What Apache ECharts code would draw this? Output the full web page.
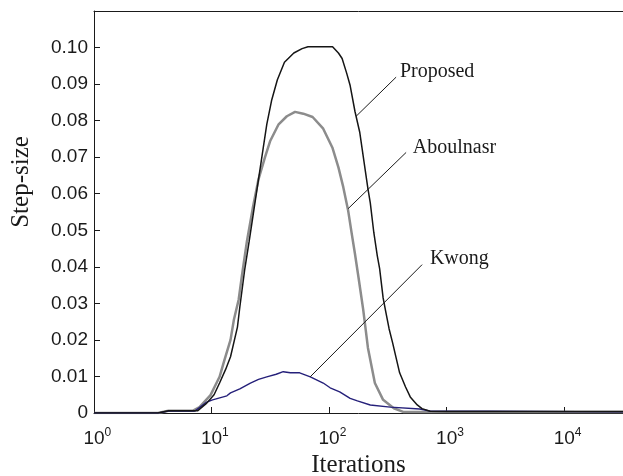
<!DOCTYPE html>
<html><head><meta charset="utf-8">
<script src="https://cdn.jsdelivr.net/npm/echarts@6/dist/echarts.min.js"></script>
<style>html,body{margin:0;padding:0;background:#fff}#c{width:623px;height:476px}</style>
</head><body><div id="c"></div>
<script>
// Iterations (x) and step-size (y)
const proposedX = [1,3.5,4.3,7.6,9.1,10.5,11.7,13.2,14.5,16.6,17.4,19.1,20.9,22.9,25.1,27.5,29.5,32.4,36.3,41.7,50.1,58.9,66.1,107,120,129,141,151,166,182,191,204,214,224,240,257,269,288,302,324,347,372,398,447,490,562,617,724,1000,31623];
const proposedY = [0,0,0.0006,0.0006,0.0027,0.005,0.0082,0.012,0.0154,0.0235,0.029,0.039,0.047,0.0555,0.064,0.0725,0.079,0.0855,0.0912,0.096,0.0985,0.0997,0.1002,0.1002,0.0985,0.097,0.093,0.0896,0.0825,0.0769,0.0723,0.0659,0.0613,0.0575,0.0494,0.043,0.0395,0.0315,0.028,0.023,0.0192,0.015,0.011,0.0071,0.0044,0.0022,0.0012,0.0005,0.0004,0.0004];
const aboulnasrX = [1,3.5,4.3,6.9,7.9,9.8,11.7,12.9,14.5,15.5,17.0,18.2,20.0,22.4,25.1,28.5,31.6,37.2,43.7,51.3,60.3,72.4,89.1,107,120,132,145,155,166,178,195,214,245,288,355,427,31623];
const aboulnasrY = [0,0,0.0006,0.0006,0.0016,0.0049,0.0099,0.0146,0.020,0.0256,0.031,0.038,0.047,0.056,0.064,0.070,0.0745,0.079,0.0812,0.0824,0.0819,0.081,0.0778,0.0725,0.0672,0.0618,0.0555,0.0495,0.0435,0.037,0.0283,0.0178,0.0082,0.0036,0.0013,0.0003,0.0003];
const kwongX = [1,3.5,4.3,7.2,9.1,10.2,13.5,14.5,17.4,21.4,25.1,29.5,35.5,40.7,46.8,56.2,69.2,89.1,102,123,151,174,224,331,589,724,2291,31623];
const kwongY = [0,0,0.0005,0.0005,0.003,0.0036,0.0047,0.0055,0.0066,0.0082,0.0092,0.0099,0.0106,0.0113,0.011,0.011,0.0099,0.0082,0.0069,0.0058,0.004,0.0033,0.0022,0.0016,0.0011,0.0005,0.0005,0.0003];
const xTickLabels = ['10^0','10^1','10^2','10^3','10^4'];
const seriesNames = ['Proposed','Aboulnasr','Kwong'];
// annotation anchors [x, y] in data space
const leaderLines = [[[371.5,0.0919],[169.8,0.0812]],[[452,0.0713],[145,0.0559]],[[618,0.0406],[68.9,0.00987]]];
const labelAnchors = [[400,0.0935],[515,0.0727],[720,0.0422]];

const pair = (xs, ys) => xs.map((x,i)=>[x, ys[i]]);
const colors = ['#151515','#8c8c8c','#25207a'];
const widths = [1.5,2.5,1.4];
const datasets = [pair(proposedX,proposedY), pair(aboulnasrX,aboulnasrY), pair(kwongX,kwongY)];

const chart = echarts.init(document.getElementById('c'), null, {renderer:'canvas'});
const order = [1,2,0];
const series = order.map(i => ({
  type:'line', name: seriesNames[i], data: datasets[i], showSymbol:false, symbol:'none',
  lineStyle:{color:colors[i], width:widths[i]}, z: 3 + (i===0?2:(i===2?1:0)),
  animation:false,
  markLine:{silent:true, symbol:'none', animation:false,
    lineStyle:{color:'#1a1a1a', width:1, type:'solid'}, label:{show:false},
    data:[[{coord:leaderLines[i][0]},{coord:leaderLines[i][1]}]]},
  markPoint:{silent:true, symbol:'circle', symbolSize:0, animation:false,
    label:{show:true, position:'right', distance:0, formatter:'{b}', color:'#1a1a1a',
      fontFamily:'Liberation Serif', fontSize:20},
    data:[{name: seriesNames[i], coord: labelAnchors[i]}]}
}));

const expOf = v => { const e = Math.log10(v); return Math.abs(e-Math.round(e))<1e-6 ? Math.round(e) : null; };
chart.setOption({
  animation:false,
  grid:{left:94, right:0, top:11, bottom:63, containLabel:false, outerBoundsMode:'none'},
  xAxis:[{
    type:'log', logBase:10, min:1, max:31623,
    name:'Iterations', nameLocation:'middle', nameGap:38,
    nameTextStyle:{fontFamily:'Liberation Serif', fontSize:25, color:'#1a1a1a'},
    axisLine:{show:true, onZero:false, lineStyle:{color:'#1a1a1a', width:1}},
    axisTick:{show:true, inside:true, length:6, lineStyle:{color:'#1a1a1a'}},
    minorTick:{show:false}, splitLine:{show:false},
    axisLabel:{margin:14, showMaxLabel:false, color:'#1a1a1a',
      formatter: v => { const e = expOf(v); if (e===null) return ''; const t = xTickLabels[e]; if(!t) return ''; const p = t.split('^')[1]; return '{sp|'+p+'}{b|10}{s|'+p+'}'; },
      rich:{ b:{fontFamily:'Liberation Sans', fontSize:19, color:'#1a1a1a'},
             s:{fontFamily:'Liberation Sans', fontSize:12, color:'#1a1a1a', padding:[0,0,11,0]},
             sp:{fontFamily:'Liberation Sans', fontSize:12, color:'rgba(0,0,0,0)', padding:[0,0,11,0]} }
    }
  },{
    type:'log', logBase:10, min:1, max:31623, position:'top',
    axisLine:{show:true, onZero:false, lineStyle:{color:'#1a1a1a', width:1}},
    axisTick:{show:false}, axisLabel:{show:false}, splitLine:{show:false}
  }],
  yAxis:{
    type:'value', min:0, max:0.11, interval:0.01,
    name:'Step-size', nameLocation:'middle', nameGap:60, nameRotate:90,
    nameTextStyle:{fontFamily:'Liberation Serif', fontSize:25, color:'#1a1a1a', padding:[0,0,0,60]},
    axisLine:{show:true, lineStyle:{color:'#1a1a1a', width:1}},
    axisTick:{show:true, inside:true, length:6, lineStyle:{color:'#1a1a1a'}},
    splitLine:{show:false},
    axisLabel:{margin:6, showMaxLabel:false, color:'#1a1a1a', fontFamily:'Liberation Sans', fontSize:19,
      formatter: v => v===0 ? '0' : v.toFixed(2)}
  },
  series
});
</script></body></html>
